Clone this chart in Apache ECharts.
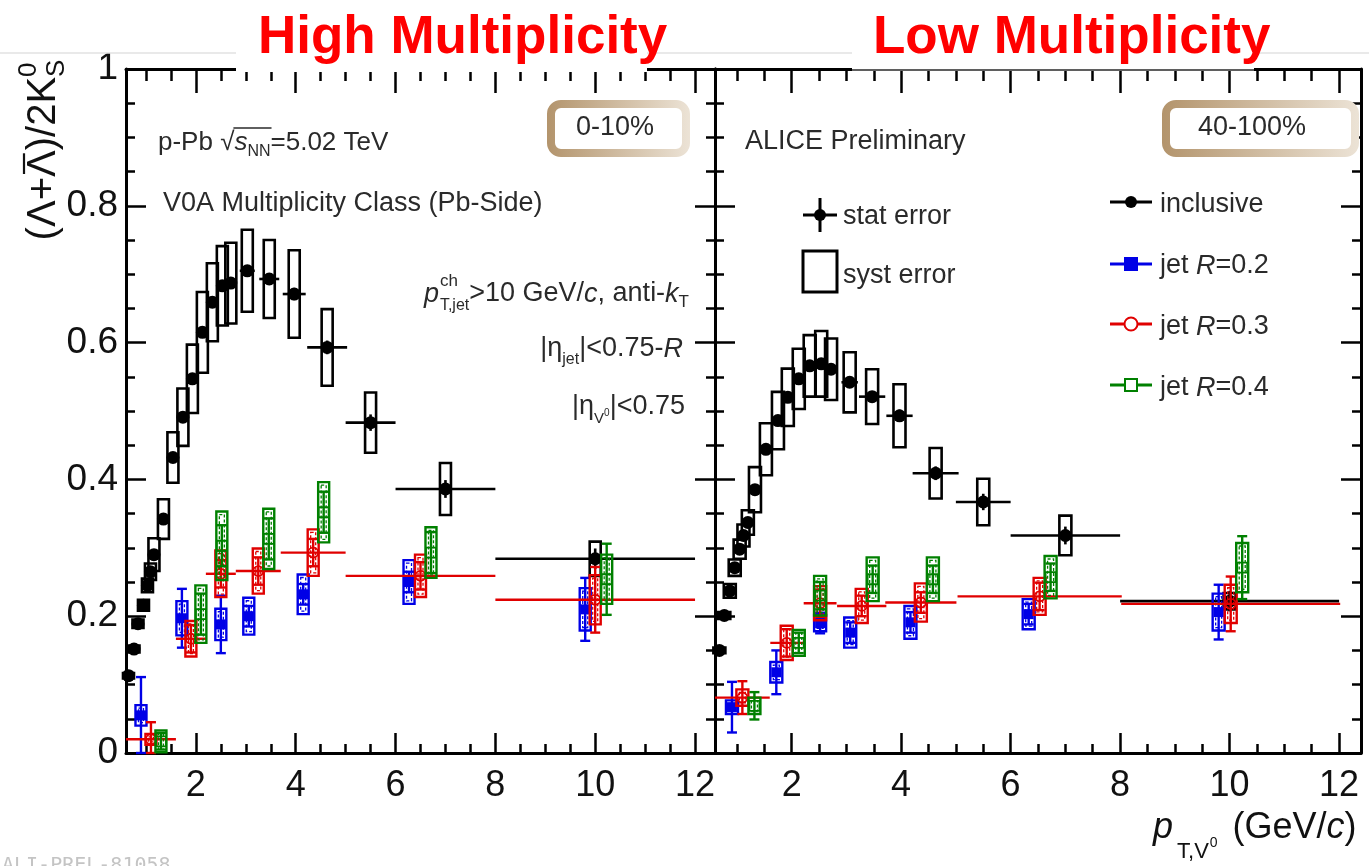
<!DOCTYPE html>
<html><head><meta charset="utf-8">
<script src="https://cdn.jsdelivr.net/npm/echarts@6/dist/echarts.min.js"></script>
<style>html,body{margin:0;padding:0;background:#fff;}#c{width:1369px;height:866px;}</style>
</head><body><div id="c"></div>
<script>
// ================= DATA =================
const xTickLabels = [2, 4, 6, 8, 10, 12];
const yTickStep = 0.2;

// ---- High multiplicity (0-10%) : inclusive ----
const hmIncPt   = [0.65,0.76,0.84,0.95,1.03,1.09,1.16,1.35,1.54,1.74,1.93,2.13,2.33,2.53,2.70,3.03,3.47,3.97,4.63,5.50,7.00,10.00];
const hmIncVal  = [0.113,0.152,0.189,0.216,0.245,0.265,0.290,0.342,0.432,0.491,0.547,0.615,0.659,0.683,0.687,0.705,0.693,0.671,0.593,0.483,0.386,0.284];
const hmIncXerr = [0.05,0.05,0.05,0.05,0.05,0.05,0.05,0.10,0.10,0.10,0.10,0.10,0.10,0.10,0.10,0.15,0.20,0.23,0.40,0.50,1.00,2.00];
const hmIncStat = [0.003,0.003,0.003,0.003,0.003,0.003,0.003,0.003,0.004,0.004,0.005,0.005,0.006,0.006,0.007,0.007,0.008,0.009,0.010,0.012,0.013,0.015];
const hmIncSyst = [0.004,0.005,0.006,0.008,0.010,0.012,0.024,0.029,0.037,0.042,0.050,0.059,0.057,0.058,0.059,0.060,0.057,0.064,0.056,0.044,0.038,0.025];

// ---- High multiplicity : jets ----
const hmR02Pt   = [0.90,1.72,2.50,3.06,4.15,6.27,9.80];
const hmR02Val  = [0.055,0.197,0.188,0.200,0.232,0.250,0.210];
const hmR02Stat = [0.056,0.043,0.042,0.015,0.015,0.015,0.046];
const hmR02Syst = [0.015,0.025,0.023,0.027,0.029,0.032,0.031];

const hmR03Pt   = [1.10,1.90,2.50,3.25,4.35,6.50,10.00];
const hmR03Val  = [0.020,0.167,0.262,0.266,0.293,0.259,0.224];
const hmR03Stat = [0.025,0.020,0.020,0.020,0.020,0.020,0.048];
const hmR03Syst = [0.008,0.026,0.034,0.033,0.034,0.031,0.036];
const hmR03Xerr = [0.50,0.30,0.30,0.45,0.65,1.50,2.00];

const hmR04Pt   = [1.30,2.10,2.52,3.46,4.56,6.71,10.23];
const hmR04Val  = [0.017,0.203,0.303,0.313,0.352,0.293,0.254];
const hmR04Stat = [0.012,0.030,0.030,0.030,0.030,0.030,0.052];
const hmR04Syst = [0.016,0.042,0.050,0.044,0.044,0.037,0.036];

// ---- Low multiplicity (40-100%) : inclusive ----
const lmIncPt   = [0.68,0.77,0.87,0.96,1.05,1.12,1.20,1.33,1.53,1.75,1.93,2.13,2.33,2.54,2.72,3.06,3.47,3.97,4.63,5.50,7.00,10.00];
const lmIncVal  = [0.150,0.201,0.237,0.271,0.298,0.318,0.337,0.385,0.444,0.486,0.520,0.547,0.566,0.569,0.561,0.542,0.521,0.493,0.409,0.367,0.318,0.222];
const lmIncXerr = [0.05,0.05,0.05,0.05,0.05,0.05,0.05,0.10,0.10,0.10,0.10,0.10,0.10,0.10,0.10,0.15,0.24,0.24,0.42,0.50,1.00,2.00];
const lmIncStat = [0.003,0.003,0.003,0.003,0.003,0.003,0.003,0.003,0.004,0.004,0.005,0.005,0.006,0.006,0.007,0.007,0.008,0.009,0.010,0.012,0.013,0.015];
const lmIncSyst = [0.004,0.005,0.010,0.012,0.014,0.016,0.018,0.033,0.038,0.042,0.042,0.044,0.045,0.048,0.045,0.044,0.040,0.046,0.037,0.034,0.029,0.012];

// ---- Low multiplicity : jets ----
const lmR02Pt   = [0.91,1.72,2.52,3.07,4.17,6.33,9.80];
const lmR02Val  = [0.067,0.118,0.190,0.176,0.191,0.203,0.206];
const lmR02Stat = [0.037,0.032,0.015,0.015,0.015,0.015,0.040];
const lmR02Syst = [0.010,0.015,0.012,0.022,0.024,0.022,0.027];

const lmR03Pt   = [1.10,1.91,2.52,3.28,4.36,6.53,10.02];
const lmR03Val  = [0.081,0.161,0.219,0.215,0.220,0.229,0.218];
const lmR03Stat = [0.024,0.020,0.020,0.015,0.015,0.020,0.040];
const lmR03Syst = [0.012,0.025,0.025,0.025,0.028,0.027,0.028];
const lmR03Xerr = [0.50,0.30,0.30,0.45,0.65,1.50,2.00];

const lmR04Pt   = [1.32,2.13,2.52,3.48,4.58,6.73,10.23];
const lmR04Val  = [0.069,0.161,0.230,0.254,0.254,0.257,0.271];
const lmR04Stat = [0.020,0.015,0.020,0.020,0.020,0.020,0.046];
const lmR04Syst = [0.012,0.019,0.029,0.032,0.032,0.031,0.036];

// ================= STYLE =================
const FONT = '"Liberation Sans", Arial, Helvetica, sans-serif';
const BLUE = '#0000e6', RED = '#e00000', GREEN = '#008000', TXT = '#2a2a2a';

function zip() { const a = arguments; return a[0].map((_, i) => Array.prototype.map.call(a, arr => arr[i])); }

function incRender(boxW) {
  return function (params, api) {
    const x = api.value(0), y = api.value(1), xe = api.value(2), st = api.value(3), sy = api.value(4);
    const c = api.coord([x, y]), l = api.coord([x - xe, y]), r = api.coord([x + xe, y]);
    const t = api.coord([x, y + sy]), b = api.coord([x, y - sy]);
    const s1 = api.coord([x, y + st]), s2 = api.coord([x, y - st]);
    return { type: 'group', children: [
      { type: 'rect', shape: { x: c[0] - boxW / 2, y: t[1], width: boxW, height: b[1] - t[1] }, style: { fill: 'none', stroke: '#000', lineWidth: 2.6 } },
      { type: 'line', shape: { x1: l[0], y1: c[1], x2: r[0], y2: c[1] }, style: { stroke: '#000', lineWidth: 2.6 } },
      { type: 'line', shape: { x1: c[0], y1: s1[1], x2: c[0], y2: s2[1] }, style: { stroke: '#000', lineWidth: 2.6 } },
      { type: 'circle', shape: { cx: c[0], cy: c[1], r: 6.5 }, style: { fill: '#000' } }
    ] };
  };
}

function jetRender(color, marker, boxW, hasX) {
  return function (params, api) {
    const x = api.value(0), y = api.value(1), st = api.value(2), sy = api.value(3), xe = hasX ? api.value(4) : 0;
    const c = api.coord([x, y]);
    const t = api.coord([x, y + sy]), b = api.coord([x, y - sy]);
    const s1 = api.coord([x, y + st]), s2 = api.coord([x, Math.max(0, y - st)]);
    const ch = [
      { type: 'rect', shape: { x: c[0] - boxW / 2, y: t[1], width: boxW, height: b[1] - t[1] }, style: { fill: 'none', stroke: color, lineWidth: 2.4 } },
      { type: 'rect', shape: { x: c[0] - boxW / 2 + 3, y: t[1] + 3, width: boxW - 6, height: Math.max(0, b[1] - t[1] - 6) }, style: { fill: 'none', stroke: color, lineWidth: 1.3, lineDash: [3, 2] } },
      { type: 'line', shape: { x1: c[0], y1: s1[1], x2: c[0], y2: s2[1] }, style: { stroke: color, lineWidth: 2.4 } },
      { type: 'line', shape: { x1: c[0] - 5, y1: s1[1], x2: c[0] + 5, y2: s1[1] }, style: { stroke: color, lineWidth: 2.4 } },
      { type: 'line', shape: { x1: c[0] - 5, y1: s2[1], x2: c[0] + 5, y2: s2[1] }, style: { stroke: color, lineWidth: 2.4 } }
    ];
    if (hasX) {
      const l = api.coord([x - xe, y]), r = api.coord([x + xe, y]);
      ch.push({ type: 'line', shape: { x1: l[0], y1: c[1], x2: r[0], y2: c[1] }, style: { stroke: color, lineWidth: 2.4 } });
    }
    if (marker === 'square') ch.push({ type: 'rect', shape: { x: c[0] - 5, y: c[1] - 5, width: 10, height: 10 }, style: { fill: color } });
    if (marker === 'circle') ch.push({ type: 'circle', shape: { cx: c[0], cy: c[1], r: 5 }, style: { fill: 'none', stroke: color, lineWidth: 1.8 } });
    if (marker === 'osquare') ch.push({ type: 'rect', shape: { x: c[0] - 5, y: c[1] - 5, width: 10, height: 10 }, style: { fill: 'none', stroke: color, lineWidth: 1.8 } });
    return { type: 'group', children: ch };
  };
}

function xAx(grid, pos, labels) {
  return {
    type: 'value', gridIndex: grid, position: pos, min: 0.6, max: 12.4, splitNumber: 6,
    axisLine: { show: true, onZero: false, lineStyle: { color: '#000', width: 3 } },
    axisTick: { show: true, inside: true, length: pos === 'top' ? 24 : 20, lineStyle: { color: '#000', width: 2.5 } },
    minorTick: { show: true, splitNumber: 4, length: pos === 'top' ? 12 : 9, lineStyle: { color: '#000', width: 2.5 } },
    splitLine: { show: false }, minorSplitLine: { show: false },
    axisLabel: labels ? { show: true, customValues: xTickLabels, fontSize: 36, fontFamily: FONT, color: '#111', margin: 15 } : { show: false }
  };
}
function yAx(grid, pos, labels) {
  return {
    type: 'value', gridIndex: grid, position: pos, min: 0, max: 1, interval: yTickStep,
    axisLine: { show: true, onZero: false, lineStyle: { color: '#000', width: 3 } },
    axisTick: { show: true, inside: true, length: 20, lineStyle: { color: '#000', width: 2.5 } },
    minorTick: { show: true, splitNumber: 4, length: 9, lineStyle: { color: '#000', width: 2.5 } },
    splitLine: { show: false }, minorSplitLine: { show: false },
    axisLabel: labels ? { show: true, fontSize: 37, fontFamily: FONT, color: '#111', margin: 8 } : { show: false }
  };
}

function incSeries(g, pt, val, xe, st, sy, boxW) {
  return { type: 'custom', xAxisIndex: g, yAxisIndex: g, silent: true, z: 3,
    renderItem: incRender(boxW), data: zip(pt, val, xe, st, sy), encode: { x: 0, y: 1 } };
}
function jetSeries(g, color, marker, pt, val, st, sy, xe, boxW) {
  const data = xe ? zip(pt, val, st, sy, xe) : zip(pt, val, st, sy);
  return { type: 'custom', xAxisIndex: g, yAxisIndex: g, silent: true, z: 4,
    renderItem: jetRender(color, marker, boxW, !!xe), data: data, encode: { x: 0, y: 1 } };
}

// ---------- text helper ----------
const mctx = document.createElement('canvas').getContext('2d');
function fontStr(p) { return (p.i ? 'italic ' : '') + (p.b ? 'bold ' : '') + p.s + 'px "Liberation Sans"'; }
function runs(x, y, parts, align, color, z) {
  let cur = 0, prevStart = 0; const items = [];
  parts.forEach(p => {
    const f = fontStr(p); mctx.font = f; const w = mctx.measureText(p.t).width;
    let start = p.stack ? prevStart : cur;
    if (p.gap) start += p.gap;
    const end = start + w;
    cur = p.stack ? Math.max(cur, end) : end;
    items.push({ p, f, start, w }); prevStart = start;
  });
  const off = align === 'right' ? x - cur : align === 'center' ? x - cur / 2 : x;
  const els = items.map(it => ({ type: 'text', x: off + it.start, y: y + (it.p.dy || 0), z: z || 60,
    style: { text: it.p.t, font: it.f, fill: color || TXT, align: 'left', verticalAlign: 'middle', textAlign: 'left', textVerticalAlign: 'middle' } }));
  const pos = items.map(it => ({ x0: off + it.start, x1: off + it.start + it.w }));
  return { els, pos };
}
function line(x1, y1, x2, y2, color, w, z) { return { type: 'line', z: z || 60, shape: { x1, y1, x2, y2 }, style: { stroke: color, lineWidth: w } }; }

const G = [];
// slide artefacts at top
G.push(line(0, 53, 1369, 53, '#e2e2e2', 1.5, 40));
G.push({ type: 'rect', z: 50, shape: { x: 236, y: 0, width: 411, height: 72 }, style: { fill: '#fff' } });
G.push({ type: 'rect', z: 50, shape: { x: 852, y: 0, width: 402, height: 69 }, style: { fill: '#fff' } });
G.push(line(852, 70, 1254, 70, '#bdbdbd', 1.2, 51));
// titles
G.push(...runs(258, 38, [{ t: 'High Multiplicity', s: 53, b: true }], 'left', '#ff0000').els);
G.push(...runs(873, 38, [{ t: 'Low Multiplicity', s: 53, b: true }], 'left', '#ff0000').els);

// y-axis title (rotated)
(function () {
  const r = runs(0, 0, [{ t: '(Λ+', s: 40 }, { t: 'Λ', s: 40 }, { t: ')/2K', s: 40 }, { t: '0', s: 26, dy: -15 }, { t: 'S', s: 26, dy: 13, stack: true }], 'center', '#111');
  const ol = r.pos[1];
  const ch = r.els.concat([line(ol.x0 + 3, -20, ol.x1 - 3, -20, '#111', 2.2)]);
  G.push({ type: 'group', x: 44, y: 150, rotation: Math.PI / 2, children: ch });
})();

// x-axis title
G.push(...runs(1153, 828, [{ t: 'p', s: 36, i: true }, { t: 'T,V', s: 22, dy: 24, gap: 4 }, { t: '0', s: 14, dy: 15, gap: 1 }, { t: ' (GeV/', s: 36, gap: 5 }, { t: 'c', s: 36, i: true }, { t: ')', s: 36 }], 'left', '#111').els);

// left panel annotations
(function () {
  const r = runs(158, 143, [{ t: 'p-Pb ', s: 26 }, { t: '√', s: 26 }, { t: 's', s: 26, i: true }, { t: 'NN', s: 16, dy: 9 }, { t: '=5.02 TeV', s: 26 }], 'left');
  G.push(...r.els);
  G.push(line(r.pos[1].x1 - 1, 128, r.pos[3].x1 + 1, 128, TXT, 1.6));
})();
G.push(...runs(163, 204, [{ t: 'V0A Multiplicity Class (Pb-Side)', s: 27 }], 'left').els);
G.push(...runs(689, 294, [{ t: 'p', s: 27, i: true }, { t: 'ch', s: 17, dy: -13, gap: 1 }, { t: 'T,jet', s: 16, dy: 12, stack: true }, { t: '>10 GeV/', s: 27 }, { t: 'c', s: 27, i: true }, { t: ', anti-', s: 27 }, { t: 'k', s: 27, i: true }, { t: 'T', s: 17, dy: 8 }], 'right').els);
G.push(...runs(683, 349, [{ t: '|η', s: 27 }, { t: 'jet', s: 16, dy: 11 }, { t: '|<0.75-', s: 27 }, { t: 'R', s: 27, i: true }], 'right').els);
G.push(...runs(685, 407, [{ t: '|η', s: 27 }, { t: 'V', s: 15, dy: 12 }, { t: '0', s: 10, dy: 6 }, { t: '|<0.75', s: 27 }], 'right').els);

// centrality boxes
const grad = { type: 'linear', x: 0, y: 0, x2: 1, y2: 0, colorStops: [{ offset: 0, color: '#b3946c' }, { offset: 1, color: '#ece3d6' }] };
G.push({ type: 'rect', z: 55, shape: { x: 551, y: 104, width: 135, height: 49, r: 10 }, style: { fill: '#fff', stroke: grad, lineWidth: 8 } });
G.push({ type: 'rect', z: 55, shape: { x: 1166, y: 104, width: 189, height: 49, r: 10 }, style: { fill: '#fff', stroke: grad, lineWidth: 8 } });
G.push(...runs(615, 128, [{ t: '0-10%', s: 27 }], 'center').els);
G.push(...runs(1252, 128, [{ t: '40-100%', s: 27 }], 'center').els);

// right panel annotations + legend
G.push(...runs(745, 142, [{ t: 'ALICE Preliminary', s: 27 }], 'left').els);
G.push(line(803, 215, 837, 215, '#000', 3), line(820, 198, 820, 232, '#000', 3));
G.push({ type: 'circle', z: 61, shape: { cx: 820, cy: 215, r: 6 }, style: { fill: '#000' } });
G.push(...runs(843, 217, [{ t: 'stat error', s: 27 }], 'left').els);
G.push({ type: 'rect', z: 60, shape: { x: 803, y: 251, width: 34, height: 41 }, style: { fill: 'none', stroke: '#000', lineWidth: 3 } });
G.push(...runs(843, 276, [{ t: 'syst error', s: 27 }], 'left').els);

G.push(line(1110, 202, 1152, 202, '#000', 3));
G.push({ type: 'circle', z: 61, shape: { cx: 1131, cy: 202, r: 6 }, style: { fill: '#000' } });
G.push(...runs(1160, 205, [{ t: 'inclusive', s: 27 }], 'left').els);
G.push(line(1110, 264, 1152, 264, BLUE, 3));
G.push({ type: 'rect', z: 61, shape: { x: 1124, y: 257, width: 14, height: 14 }, style: { fill: BLUE } });
G.push(...runs(1160, 266, [{ t: 'jet ', s: 27 }, { t: 'R', s: 27, i: true }, { t: '=0.2', s: 27 }], 'left').els);
G.push(line(1110, 324, 1152, 324, RED, 3));
G.push({ type: 'circle', z: 61, shape: { cx: 1131, cy: 324, r: 6.5 }, style: { fill: '#fff', stroke: RED, lineWidth: 2 } });
G.push(...runs(1160, 327, [{ t: 'jet ', s: 27 }, { t: 'R', s: 27, i: true }, { t: '=0.3', s: 27 }], 'left').els);
G.push(line(1110, 385, 1152, 385, GREEN, 3));
G.push({ type: 'rect', z: 61, shape: { x: 1125, y: 379, width: 12, height: 12 }, style: { fill: '#fff', stroke: GREEN, lineWidth: 2 } });
G.push(...runs(1160, 388, [{ t: 'jet ', s: 27 }, { t: 'R', s: 27, i: true }, { t: '=0.4', s: 27 }], 'left').els);

// faded figure id at bottom-left
G.push({ type: 'text', z: 60, x: 2, y: 856, style: { text: 'ALI-PREL-81058', font: '20px "DejaVu Sans Mono"', fill: '#c4c4c4', align: 'left', verticalAlign: 'top', textAlign: 'left', textVerticalAlign: 'top' } });

const option = {
  animation: false,
  backgroundColor: '#fff',
  grid: [
    { left: 126, top: 69, width: 589, height: 684, containLabel: false, outerBoundsMode: 'none' },
    { left: 715, top: 69, width: 646, height: 684, containLabel: false, outerBoundsMode: 'none' }
  ],
  xAxis: [xAx(0, 'bottom', true), xAx(1, 'bottom', true), xAx(0, 'top', false), xAx(1, 'top', false)],
  yAxis: [yAx(0, 'left', true), yAx(1, 'left', false), yAx(0, 'right', false), yAx(1, 'right', false)],
  series: [
    incSeries(0, hmIncPt, hmIncVal, hmIncXerr, hmIncStat, hmIncSyst, 11),
    jetSeries(0, BLUE, 'square', hmR02Pt, hmR02Val, hmR02Stat, hmR02Syst, null, 11),
    jetSeries(0, RED, 'circle', hmR03Pt, hmR03Val, hmR03Stat, hmR03Syst, hmR03Xerr, 11),
    jetSeries(0, GREEN, 'osquare', hmR04Pt, hmR04Val, hmR04Stat, hmR04Syst, null, 11),
    incSeries(1, lmIncPt, lmIncVal, lmIncXerr, lmIncStat, lmIncSyst, 12),
    jetSeries(1, BLUE, 'square', lmR02Pt, lmR02Val, lmR02Stat, lmR02Syst, null, 12),
    jetSeries(1, RED, 'circle', lmR03Pt, lmR03Val, lmR03Stat, lmR03Syst, lmR03Xerr, 12),
    jetSeries(1, GREEN, 'osquare', lmR04Pt, lmR04Val, lmR04Stat, lmR04Syst, null, 12)
  ],
  graphic: { elements: G }
};
const chart = echarts.init(document.getElementById('c'), null, { renderer: 'canvas' });
chart.setOption(option);
</script></body></html>
